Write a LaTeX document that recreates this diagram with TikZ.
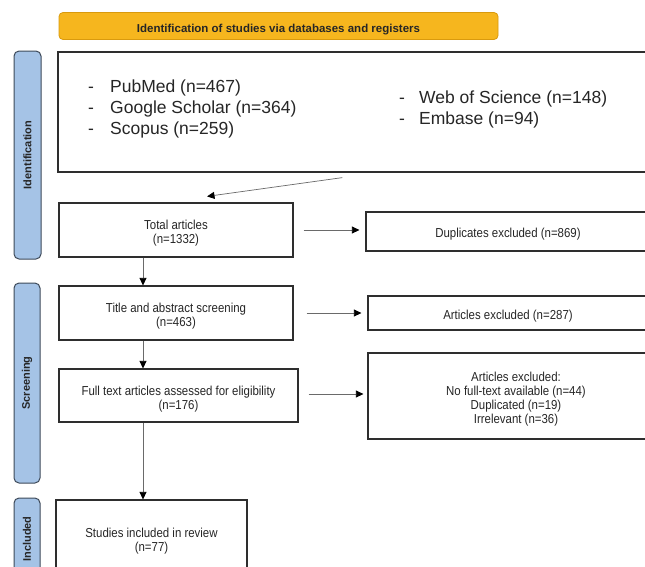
\documentclass[tikz,border=0pt]{standalone}
\usepackage{fontspec}
\setmainfont{Liberation Sans}
\newfontfamily\narrowfont[FakeStretch=0.88]{Liberation Sans}
\usetikzlibrary{arrows.meta,calc}
\definecolor{bannerfill}{HTML}{F6B61E}
\definecolor{bannerdraw}{HTML}{D99A0E}
\definecolor{barfill}{HTML}{A5C3E6}
\definecolor{bardraw}{HTML}{3E4A5A}
\definecolor{boxdraw}{HTML}{2E2E2E}
\definecolor{arrowgray}{HTML}{6A6A6A}
\definecolor{txt}{HTML}{262626}
\newcommand{\topstrut}{\rule{0pt}{16pt}}
\begin{document}
\begin{tikzpicture}[x=1pt,y=-1pt,
  box/.style={draw=boxdraw, line width=1.2pt, fill=white, inner sep=0pt, align=center,
    font=\narrowfont\fontsize{13}{14}\selectfont, text=txt},
  sidebar/.style={draw=bardraw, line width=1pt, fill=barfill, rounded corners=5pt, inner sep=0pt},
  sidelabel/.style={rotate=90, inner sep=0pt, font=\bfseries\fontsize{11}{13}\selectfont, text=txt},
  biglist/.style={anchor=west, inner sep=0pt, align=left, text=txt, font=\fontsize{17.5}{21}\selectfont},
  arr/.style={draw=arrowgray, line width=0.7pt, -{Triangle[length=7.5pt,width=7pt,color=black]}},
]
\useasboundingbox (0,0) rectangle (645,566);
\clip (0,0) rectangle (645,566);
\fill[white] (0,0) rectangle (645,566);

% banner
\node[draw=bannerdraw, fill=bannerfill, line width=0.8pt, rounded corners=4pt, minimum width=439pt,
  minimum height=27pt, inner sep=0pt, text=txt, text height=12pt, text depth=0pt,
  font=\bfseries\fontsize{11.5}{13}\selectfont]
  (banner) at (278.5,26) {Identification of studies via databases and registers};

% side bars
\node[sidebar, minimum width=27pt, minimum height=208pt] (idbar) at (27.5,155) {};
\node[sidelabel] (idlab) at (idbar.center) {Identification};
\node[sidebar, minimum width=26pt, minimum height=200pt] (scbar) at (27,383) {};
\node[sidelabel] (sclab) at (scbar.center) {Screening};
\node[sidebar, minimum width=26pt, minimum height=84pt] (inbar) at (27,540) {};
\node[sidelabel] (inlab) at (27,539) {Included};

% source box
\node[draw=boxdraw, line width=1.2pt, fill=white, inner sep=0pt, minimum width=602pt, minimum height=120pt] (src) at (359,112) {};
\node[biglist] (listL) at (88,109) {\makebox[22pt][l]{-}PubMed (n=467)\\
  \makebox[22pt][l]{-}Google Scholar (n=364)\\
  \makebox[22pt][l]{-}Scopus (n=259)};
\node[biglist] (listR) at (399,109) {\makebox[20pt][l]{-}Web of Science (n=148)\\
  \makebox[20pt][l]{-}Embase (n=94)};

% flow boxes
\node[box, minimum width=234pt, minimum height=54pt] (total) at (176,230) {\topstrut Total articles\\(n=1332)};
\node[box, minimum width=284pt, minimum height=39pt] (dup) at (508,231.5) {\rule{0pt}{15pt}Duplicates excluded (n=869)};
\node[box, minimum width=234pt, minimum height=54pt] (title) at (176,313) {\topstrut Title and abstract screening\\(n=463)};
\node[box, minimum width=280pt, minimum height=34pt] (excl1) at (508,313) {\rule{0pt}{15pt}Articles excluded (n=287)};
\node[box, minimum width=239pt, minimum height=53pt] (full) at (178.5,395.5) {\topstrut Full text articles assessed for eligibility\\(n=176)};
\node[box, minimum width=296pt, minimum height=86pt] (excl2) at (516,396) {\topstrut Articles excluded:\\No full-text available (n=44)\\Duplicated (n=19)\\Irrelevant (n=36)};
\node[box, minimum width=191pt, minimum height=76pt] (studies) at (151.5,538) {\topstrut Studies included in review\\(n=77)};

% connectors
\coordinate (ax) at (143,0);
\draw[arr] ($(src.south west)+(285,5)$) -- ($(total.north)+(31,-6)$);
\draw[arr, shorten <=10pt, shorten >=6pt] (total.east) -- (total.east -| dup.west);
\draw[arr, shorten <=13pt, shorten >=6pt] (title.east) -- (title.east -| excl1.west);
\draw[arr, shorten <=10pt, shorten >=4pt] ($(full.east)+(0,-1.5)$) -- ($(full.east -| excl2.west)+(0,-1.5)$);
\draw[arr] (total.south -| ax) -- (title.north -| ax);
\draw[arr] (title.south -| ax) -- (full.north -| ax);
\draw[arr] (full.south -| ax) -- (studies.north -| ax);
\end{tikzpicture}
\end{document}
